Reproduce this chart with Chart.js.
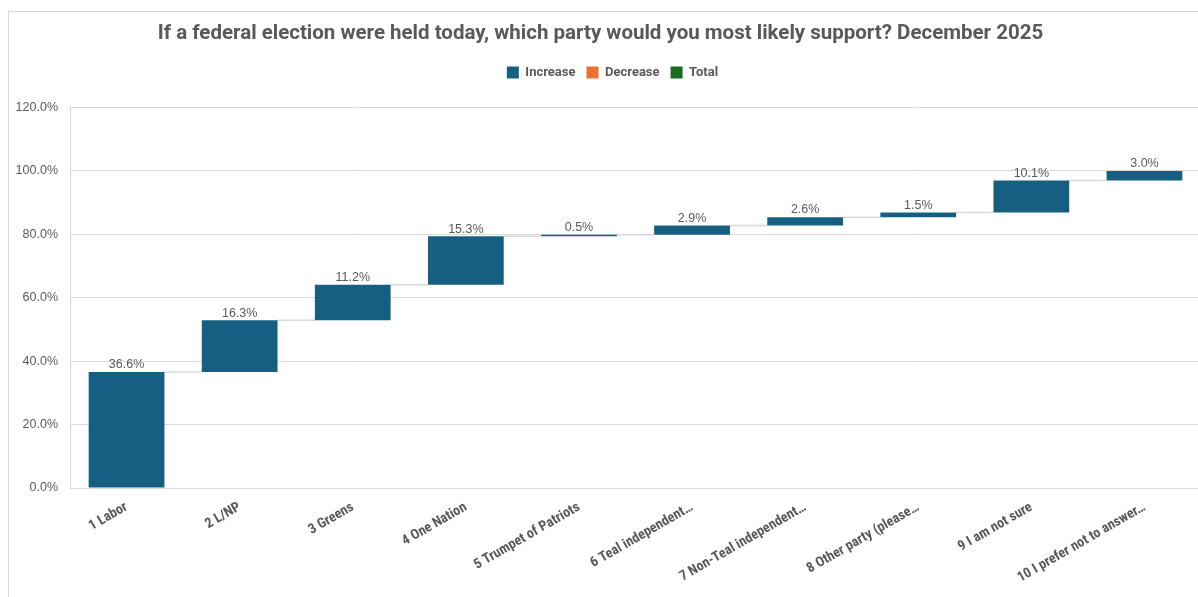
<!DOCTYPE html>
<html>
<head>
<meta charset="utf-8">
<script src="https://cdn.jsdelivr.net/npm/chart.js@4.4.1/dist/chart.umd.min.js"></script>
<style>
  html, body { margin: 0; padding: 0; background: #fff; overflow: hidden; }
  .frame { position: absolute; left: 8px; top: 11px; width: 1200px; height: 600px; border: 1px solid #d9d9d9; box-sizing: border-box; }
  .wrap { position: absolute; left: 0; top: 0; width: 1210px; height: 597px; }
</style>
</head>
<body>
<div class="frame"></div>
<div class="wrap"><canvas id="myChart"></canvas></div>
<script>
const titleText = 'If a federal election were held today, which party would you most likely support? December 2025'
const categories = [
  '1 Labor', '2 L/NP', '3 Greens', '4 One Nation', '5 Trumpet of Patriots',
  '6 Teal independent…', '7 Non-Teal independent…', '8 Other party (please…',
  '9 I am not sure', '10 I prefer not to answer…'
]
const changes = [36.6, 16.3, 11.2, 15.3, 0.5, 2.9, 2.6, 1.5, 10.1, 3.0]
const legendNames = ['Increase', 'Decrease', 'Total']
const legendColors = ['#156082', '#E97132', '#196B24']

// floating bars: start at the running total, end after adding the change
const ends = []
changes.reduce((sum, v) => { const e = Math.round((sum + v) * 10) / 10; ends.push(e); return e }, 0)
const ranges = changes.map((v, i) => [ends[i] - v, ends[i]])

const narrow = "'Roboto Condensed', Roboto, sans-serif"
const plain = "'Liberation Sans', Arial, sans-serif"
const grey = '#595959'

const connectors = {
  id: 'connectors',
  beforeDatasetsDraw(chart) {
    const meta = chart.getDatasetMeta(0)
    const y = chart.scales.y
    const ctx = chart.ctx
    ctx.save()
    ctx.strokeStyle = '#d9d9d9'
    ctx.lineWidth = 1.5
    for (let i = 0; i < meta.data.length - 1; i++) {
      const a = meta.data[i], b = meta.data[i + 1]
      const py = y.getPixelForValue(ends[i])
      ctx.beginPath()
      ctx.moveTo(a.x + a.width / 2, py)
      ctx.lineTo(b.x - b.width / 2, py)
      ctx.stroke()
    }
    ctx.restore()
  }
}

const valueLabels = {
  id: 'valueLabels',
  afterDatasetsDraw(chart) {
    const meta = chart.getDatasetMeta(0)
    const y = chart.scales.y
    const ctx = chart.ctx
    ctx.save()
    ctx.font = '12.5px ' + plain
    ctx.fillStyle = grey
    ctx.textAlign = 'center'
    ctx.textBaseline = 'bottom'
    meta.data.forEach((bar, i) => {
      ctx.fillText(changes[i].toFixed(1) + '%', bar.x, y.getPixelForValue(ends[i]) - 1)
    })
    ctx.restore()
  }
}

// extra room under the legend, and nudge it right like the original
const legendSpacing = {
  id: 'legendSpacing',
  beforeLayout(chart) {
    const legend = chart.legend
    if (!legend || legend._spaced) return
    const fit = legend.fit
    legend.fit = function () { fit.call(this); this.height += 18.5 }
    legend._spaced = true
  },
  afterLayout(chart) {
    if (chart.legend) chart.legend.left += 24
  }
}

const ctx = document.getElementById('myChart').getContext('2d')

const chart = new Chart(ctx, {
  type: 'bar',
  data: {
    labels: categories,
    datasets: [
      { label: legendNames[0], backgroundColor: legendColors[0], data: ranges },
      { label: legendNames[1], backgroundColor: legendColors[1], data: categories.map(() => null) },
      { label: legendNames[2], backgroundColor: legendColors[2], data: categories.map(() => null) }
    ]
  },
  options: {
    responsive: true,
    maintainAspectRatio: false,
    animation: false,
    grouped: false,
    categoryPercentage: 1,
    barPercentage: 0.67,
    layout: { padding: { left: 0, right: 9, top: 0, bottom: 0 } },
    plugins: {
      title: {
        display: true,
        text: titleText,
        color: grey,
        font: { family: 'Roboto, sans-serif', size: 20.5, weight: 'bold' },
        padding: { top: 21.5, bottom: 9 }
      },
      legend: {
        onClick: null,
        labels: {
          boxWidth: 12,
          boxHeight: 12,
          padding: 11,
          color: grey,
          font: { family: 'Roboto, sans-serif', size: 13, weight: 'bold' }
        }
      },
      tooltip: { enabled: false }
    },
    scales: {
      x: {
        grid: { display: false },
        border: { display: false },
        afterFit: (s) => { s.height = 109 },
        ticks: {
          color: grey,
          autoSkip: false,
          maxRotation: 30,
          minRotation: 30,
          padding: 3,
          font: { family: narrow, size: 14, weight: 'bold' }
        }
      },
      y: {
        min: 0,
        max: 120,
        afterFit: (s) => { s.width = 70 },
        grid: { color: '#d9d9d9', drawTicks: false },
        border: { color: '#d9d9d9' },
        ticks: {
          stepSize: 20,
          padding: 12,
          color: grey,
          font: { family: plain, size: 12.5 },
          callback: (v) => v.toFixed(1) + '%'
        }
      }
    }
  },
  plugins: [connectors, valueLabels, legendSpacing]
})
</script>
</body>
</html>
